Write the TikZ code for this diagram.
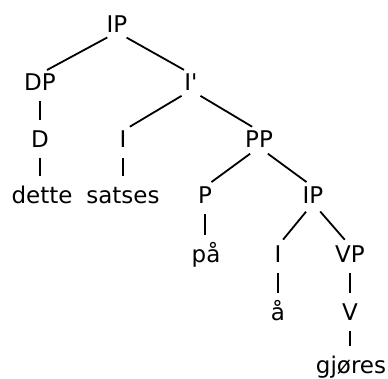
\documentclass[tikz,border=0pt]{standalone}
\usepackage{fontspec}
\newfontfamily\treefont{DejaVu Sans}
\begin{document}
\begin{tikzpicture}[x=1pt,y=-1pt,
  cat/.style={anchor=base,inner sep=0pt,text height=16pt,text depth=0pt,font=\treefont\fontsize{23}{27}\selectfont},
  br/.style={line width=1.8pt,shorten <=11pt,shorten >=8pt},
  vt/.style={line width=1.8pt,shorten <=11pt,shorten >=11pt}]
\useasboundingbox (0,0) rectangle (388,378);
\node[cat] (ip) at (117,32) {IP};
\node[cat] (dp) at (40,90) {DP};
\node[cat] (ib) at (191,90) {I'};
\node[cat] (d) at (40,147) {D};
\node[cat] (i) at (123,147) {I};
\node[cat] (pp) at (259,147) {PP};
\node[cat] (dette) at (42,203) {dette};
\node[cat] (satses) at (123,203) {satses};
\node[cat] (p) at (205,203) {P};
\node[cat] (ip2) at (313,203) {IP};
\node[cat] (paa) at (206,262) {på};
\node[cat] (i2) at (278,262) {I};
\node[cat] (vp) at (350,262) {VP};
\node[cat] (aa) at (278,320) {å};
\node[cat] (v) at (350,320) {V};
\node[cat] (gj) at (351,373) {gjøres};
\draw[br] (ip.south) -- (dp.north);
\draw[br] (ip.south) -- (ib.north);
\draw[vt] (dp.south) -- (d.north);
\draw[br] (ib.south) -- (i.north);
\draw[br] (ib.south) -- (pp.north);
\draw[vt] (d.south) -- (d.south |- dette.north);
\draw[vt] (i.south) -- (i.south |- satses.north);
\draw[br] (pp.south) -- (p.north);
\draw[br] (pp.south) -- (ip2.north);
\draw[vt] (p.south) -- (p.south |- paa.north);
\draw[br] (ip2.south) -- (i2.north);
\draw[br] (ip2.south) -- (vp.north);
\draw[vt] (i2.south) -- (aa.north);
\draw[vt] (vp.south) -- (v.north);
\draw[vt] (v.south) -- (v.south |- gj.north);
\end{tikzpicture}
\end{document}
